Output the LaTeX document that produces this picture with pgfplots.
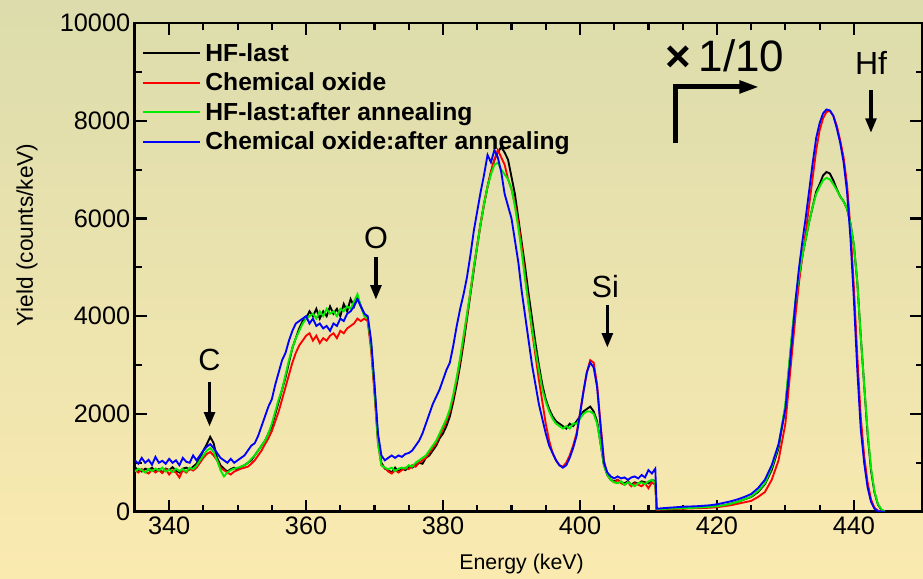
\documentclass[border=0pt]{standalone}
\usepackage{fontspec}
\setmainfont{Liberation Sans}
\usepackage{pgfplots}
\pgfplotsset{compat=1.18}
\usepackage{pgfplotstable}
\usetikzlibrary{arrows.meta}
\definecolor{bgtop}{RGB}{220,220,172}
\definecolor{bgbot}{RGB}{250,234,176}
\definecolor{lgreen}{RGB}{0,235,0}

\pgfplotstableread{
E k r g b
335.0 900 850 820 1050
335.5 860 800 880 980
336.0 820 870 850 1100
336.5 880 820 800 1000
337.0 850 780 870 1060
337.5 900 860 830 960
338.0 830 800 880 1120
338.5 870 850 840 1000
339.0 800 790 900 1040
339.5 880 870 820 980
340.0 850 760 860 1080
340.5 910 840 810 1000
341.0 840 800 880 1050
341.5 800 700 830 950
342.0 880 850 870 1100
342.5 900 800 820 1020
343.0 860 880 900 1000
343.5 920 840 870 1150
344.0 980 900 940 1050
344.5 1100 1000 1050 1150
345.0 1250 1100 1150 1250
345.5 1380 1180 1250 1330
346.0 1530 1220 1300 1380
346.5 1400 1150 1220 1300
347.0 1100 1050 1050 1200
347.5 950 900 850 1100
348.0 880 850 720 1050
348.5 820 800 800 1000
349.0 870 760 850 1080
349.5 900 820 880 1000
350.0 860 850 900 1050
350.5 920 880 920 1100
351.0 950 900 950 1150
351.5 1000 920 1000 1250
352.0 1050 980 1080 1350
352.5 1150 1050 1150 1400
353.0 1250 1150 1250 1550
353.5 1350 1250 1350 1750
354.0 1450 1380 1450 1950
354.5 1600 1500 1600 2150
355.0 1750 1650 1800 2300
355.5 2000 1850 2050 2600
356.0 2250 2050 2300 2850
356.5 2500 2300 2500 3100
357.0 2750 2550 2800 3250
357.5 3050 2800 3100 3500
358.0 3350 3050 3350 3700
358.5 3550 3250 3550 3850
359.0 3750 3400 3700 3900
359.5 3900 3500 3850 3950
360.0 3950 3600 3950 4000
360.5 4100 3650 4000 3850
361.0 4000 3500 4050 3950
361.5 4150 3600 3950 3800
362.0 3950 3450 4100 3850
362.5 4100 3550 4000 3750
363.0 4000 3500 4150 3800
363.5 4200 3600 4050 3700
364.0 4050 3650 4100 3850
364.5 4150 3550 4000 3800
365.0 4000 3700 4150 3950
365.5 4250 3650 4100 3900
366.0 4100 3750 4200 4050
366.5 4350 3800 4150 4100
367.0 4200 3850 4300 4200
367.5 4400 3950 4450 4350
368.0 4200 3900 4200 4200
368.5 4050 3950 4000 4050
369.0 3950 3900 3950 4000
369.5 3400 3300 3400 3500
370.0 2500 2400 2500 2600
370.5 1500 1400 1400 1600
371.0 1000 950 950 1150
371.5 880 900 900 1050
372.0 850 820 870 1100
372.5 800 780 900 1150
373.0 900 850 830 1100
373.5 820 800 880 1150
374.0 880 850 900 1120
374.5 850 900 880 1180
375.0 920 870 950 1200
375.5 900 950 920 1250
376.0 950 920 1000 1350
376.5 1000 1000 1050 1450
377.0 980 1050 1100 1600
377.5 1100 1100 1150 1800
378.0 1150 1200 1250 2000
378.5 1250 1300 1350 2200
379.0 1350 1400 1450 2350
379.5 1500 1550 1600 2500
380.0 1600 1700 1750 2700
380.5 1750 1850 1900 2900
381.0 1950 2050 2100 3050
381.5 2250 2350 2400 3400
382.0 2600 2700 2750 3800
382.5 3000 3100 3150 4150
383.0 3450 3550 3600 4450
383.5 3950 4000 4050 4800
384.0 4450 4500 4500 5250
384.5 4950 5000 5000 5750
385.0 5450 5450 5450 6150
385.5 5900 5900 5900 6550
386.0 6300 6300 6300 6900
386.5 6650 6650 6650 7300
387.0 6950 6950 6900 7150
387.5 7200 7200 7100 7400
388.0 7350 7400 7140 7250
388.5 7460 7250 7000 6950
389.0 7350 7100 6900 6500
389.5 7200 6800 6800 6250
390.0 6850 6600 6600 6000
390.5 6500 6300 6250 5550
391.0 6000 5900 5800 5100
391.5 5500 5400 5300 4500
392.0 5000 4800 4750 4000
392.5 4450 4250 4250 3500
393.0 3950 3700 3750 3000
393.5 3450 3200 3300 2600
394.0 3000 2700 2900 2200
394.5 2600 2250 2500 1900
395.0 2300 1800 2250 1600
395.5 2100 1450 2050 1350
396.0 1950 1200 1900 1200
396.5 1850 1050 1800 1050
397.0 1800 950 1750 950
397.5 1750 920 1700 900
398.0 1700 1000 1750 950
398.5 1800 1150 1700 1100
399.0 1750 1350 1800 1300
399.5 1850 1600 1800 1550
400.0 1950 2000 1900 2000
400.5 2050 2450 2000 2450
401.0 2100 2850 2050 2850
401.5 2150 3100 2050 3050
402.0 2050 3050 2000 2950
402.5 1850 2600 1800 2550
403.0 1400 1800 1400 1750
403.5 950 1050 950 1000
404.0 750 750 750 800
404.5 650 650 650 720
405.0 620 600 600 680
405.5 650 650 580 720
406.0 600 580 620 680
406.5 580 550 550 700
407.0 620 600 600 650
407.5 550 520 560 700
408.0 600 580 520 720
408.5 570 550 580 680
409.0 620 520 600 750
409.5 600 580 560 700
410.0 580 480 620 850
410.5 650 600 650 780
411.0 620 550 600 880
411.2 50 40 50 60
413.0 60 50 60 80
415.0 70 60 70 100
417.0 80 70 80 110
419.0 100 80 100 130
420.0 110 90 110 150
421.0 130 110 130 180
422.0 160 130 160 210
423.0 200 160 200 250
424.0 250 190 250 300
425.0 300 220 310 360
426.0 400 300 420 480
427.0 560 400 580 650
428.0 850 650 900 950
429.0 1300 1050 1350 1380
430.0 2150 1800 2200 2100
430.5 2900 2550 2950 2800
431.0 3650 3300 3700 3550
431.5 4300 4050 4350 4350
432.0 4800 4700 4850 5000
432.5 5250 5250 5250 5550
433.0 5600 5750 5600 6050
433.5 5950 6300 5950 6600
434.0 6250 6850 6250 7150
434.5 6550 7400 6500 7650
435.0 6700 7800 6650 7950
435.5 6880 8050 6780 8150
436.0 6950 8180 6830 8230
436.5 6920 8200 6800 8210
437.0 6780 8100 6700 8100
437.5 6600 7900 6580 7850
438.0 6450 7600 6450 7550
438.5 6350 7250 6350 7150
439.0 6200 6700 6200 6550
439.5 5900 5800 5900 5600
440.0 5450 4600 5450 4350
440.5 4700 3200 4700 2900
441.0 3600 1950 3600 1700
441.5 2600 1150 2600 1000
442.0 1600 600 1650 500
442.5 850 250 900 200
443.0 400 80 420 60
443.5 150 20 160 10
444.0 40 0 50 0
444.5 0 0 0 0
}\rbs

\begin{document}
\begin{tikzpicture}
\path[use as bounding box] (-101.25pt,-50.25pt) rectangle (591.5pt,384pt);
\shade[top color=bgtop, bottom color=bgbot] (-101.25pt,-50.25pt) rectangle (591.5pt,384pt);
\begin{axis}[
  at={(0pt,0pt)}, anchor=south west,
  scale only axis, width=591pt, height=366.75pt,
  xmin=335, xmax=450, ymin=0, ymax=10000,
  xtick={340,360,...,440}, minor x tick num=3,
  ytick={0,2000,...,10000}, minor y tick num=1,
  scaled y ticks=false,
  /pgf/number format/1000 sep={},
  /pgf/number format/assume math mode=true,
  tick align=inside,
  axis line style={line width=2.2pt},
  every tick/.style={black, line width=1.6pt},
  major tick length=9pt, minor tick length=5pt,
  tick label style={font=\fontsize{19}{19}\selectfont},
  xlabel={Energy (keV)},
  ylabel={Yield (counts/keV)},
  xlabel style={font=\fontsize{16}{16}\selectfont, at={(axis description cs:0.491,-0.108)}, anchor=center},
  ylabel style={font=\fontsize{17}{17}\selectfont, at={(axis description cs:-0.137,0.566)}, anchor=center, rotate=0},
  legend style={draw=none, fill=none, at={(axis description cs:0.009,0.967)}, anchor=north west,
     font=\fontsize{18.5}{21}\bfseries, inner sep=0pt, row sep=1.2pt,
     nodes={inner sep=3pt}},
  legend cell align=left,
  legend image code/.code={\draw[#1] (0pt,0pt) -- (43pt,0pt);},
  every axis plot/.append style={line width=1.4pt},
]
\addplot[black] table[x=E,y=k] {\rbs};
\addplot[red] table[x=E,y=r] {\rbs};
\addplot[lgreen] table[x=E,y=g] {\rbs};
\addplot[blue] table[x=E,y=b] {\rbs};
\legend{HF-last, Chemical oxide, HF-last:after annealing, Chemical oxide:after annealing}

\node[font=\fontsize{23}{23}\selectfont] at (axis cs:345.9,3108) {C};
\draw[line width=2.6pt, -{Triangle[length=11pt,width=8pt]}] (axis cs:345.9,2658) -- (axis cs:345.9,1738);
\node[font=\fontsize{23}{23}\selectfont] at (axis cs:370.2,5603) {O};
\draw[line width=2.6pt, -{Triangle[length=11pt,width=8pt]}] (axis cs:370.2,5215) -- (axis cs:370.2,4335);
\node[font=\fontsize{23}{23}\selectfont] at (axis cs:403.7,4601) {Si};
\draw[line width=2.6pt, -{Triangle[length=11pt,width=8pt]}] (axis cs:404.0,4233) -- (axis cs:404.0,3354);
\node[font=\fontsize{24}{24}\selectfont] at (axis cs:442.5,9182) {Hf};
\draw[line width=2.6pt, -{Triangle[length=11pt,width=8pt]}] (axis cs:442.5,8630) -- (axis cs:442.5,7750);
\node[font=\fontsize{33}{33}\selectfont] at (axis cs:421.2,9325) {{\bfseries ×}\,1/10};
\draw[line width=3.7pt, -{Triangle[length=15pt,width=9pt]}] (axis cs:414.0,7546) -- (axis cs:414.0,8691) -- (axis cs:426.2,8691);
\end{axis}
\end{tikzpicture}
\end{document}
